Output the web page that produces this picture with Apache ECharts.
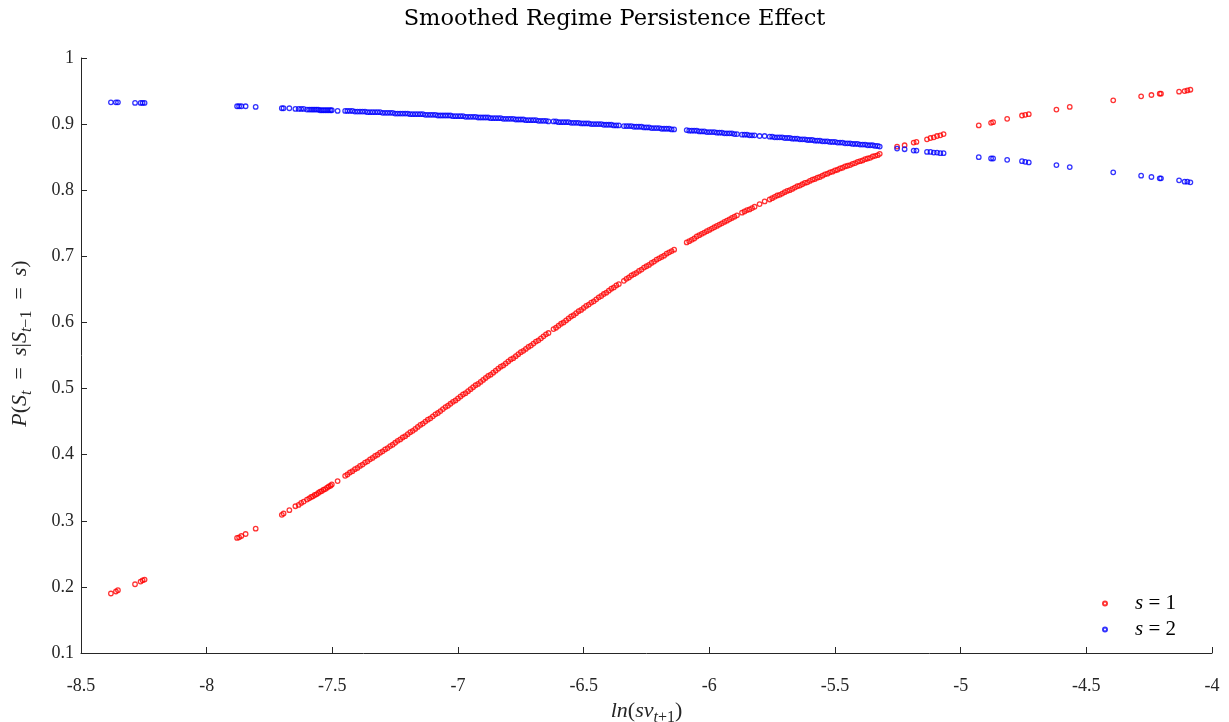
<!DOCTYPE html>
<html>
<head>
<meta charset="utf-8">
<script src="https://cdn.jsdelivr.net/npm/echarts@6/dist/echarts.min.js"></script>
<style>html,body{margin:0;padding:0;background:#fff}#c{width:1229px;height:722px}</style>
</head>
<body>
<div id="c"></div>
<script>
// log sv_{t+1} (shared by both regimes)
const xs = [
 -8.381,-8.361,-8.353,-8.285,-8.263,-8.255,-8.247,
 -7.879,-7.871,-7.862,-7.845,-7.805,
 -7.701,-7.694,-7.671,-7.647,-7.634,-7.624,-7.614,-7.601,-7.592,-7.584,-7.577,-7.570,
 -7.563,-7.556,-7.549,-7.542,-7.535,-7.528,-7.521,-7.514,-7.507,-7.502,-7.479,-7.449,
 -7.44,-7.43,-7.42,-7.41,-7.40,
 -7.39,-7.38,-7.37,-7.36,-7.35,-7.34,-7.33,-7.32,-7.31,-7.30,
 -7.29,-7.28,-7.27,-7.26,-7.25,-7.24,-7.23,-7.22,-7.21,-7.20,
 -7.19,-7.18,-7.17,-7.16,-7.15,-7.14,-7.13,-7.12,-7.11,-7.10,
 -7.09,-7.08,-7.07,-7.06,-7.05,-7.04,-7.03,-7.02,-7.01,-7.00,
 -6.99,-6.98,-6.97,-6.96,-6.95,-6.94,-6.93,-6.92,-6.91,-6.90,
 -6.89,-6.88,-6.87,-6.86,-6.85,-6.84,-6.83,-6.82,-6.81,-6.80,
 -6.79,-6.78,-6.77,-6.76,-6.75,-6.74,-6.73,-6.72,-6.71,-6.70,
 -6.69,-6.68,-6.67,-6.66,-6.65,-6.64,-6.62,-6.61,-6.60,
 -6.59,-6.58,-6.57,-6.56,-6.55,-6.54,-6.53,-6.52,-6.51,-6.50,
 -6.49,-6.48,-6.47,-6.46,-6.45,-6.44,-6.43,-6.42,-6.41,-6.40,
 -6.39,-6.38,-6.37,-6.36,-6.34,-6.33,-6.32,-6.31,-6.30,
 -6.29,-6.28,-6.27,-6.26,-6.25,-6.24,-6.23,-6.22,-6.21,-6.20,
 -6.19,-6.18,-6.17,-6.16,-6.15,-6.14,
 -6.09,-6.08,-6.07,-6.06,-6.05,-6.04,-6.03,-6.02,-6.01,-6.00,
 -5.99,-5.98,-5.97,-5.96,-5.95,-5.94,-5.93,-5.92,-5.91,-5.90,
 -5.89,-5.87,-5.86,-5.85,-5.84,-5.83,-5.82,-5.80,
 -5.78,-5.76,-5.75,-5.74,-5.73,-5.72,-5.71,-5.70,
 -5.69,-5.68,-5.67,-5.66,-5.65,-5.64,-5.63,-5.62,-5.61,-5.60,
 -5.59,-5.58,-5.57,-5.56,-5.55,-5.54,-5.53,-5.52,-5.51,-5.50,
 -5.49,-5.48,-5.47,-5.46,-5.45,-5.44,-5.43,-5.42,-5.41,-5.40,
 -5.39,-5.38,-5.37,-5.36,-5.35,-5.34,-5.33,
 -5.322,-5.253,-5.223,-5.187,-5.176,-5.134,-5.120,-5.107,-5.094,-5.081,-5.068,
 -4.928,-4.879,-4.871,-4.815,-4.756,-4.743,-4.729,-4.619,-4.566,
 -4.393,-4.282,-4.241,-4.208,-4.203,-4.131,-4.109,-4.098,-4.086
];
// P(S_t = 1 | S_{t-1} = 1)
const p11 = [
 0.190,0.193,0.195,0.204,0.208,0.210,0.211,
 0.274,0.275,0.277,0.280,0.288,
 0.309,0.311,0.316,0.322,0.324,0.327,0.329,0.332,0.334,0.336,0.337,0.339,
 0.340,0.342,0.344,0.345,0.347,0.348,0.350,0.352,0.353,0.355,0.360,0.368,
 0.370,0.373,0.375,0.378,0.380,
 0.383,0.385,0.388,0.390,0.393,0.395,0.398,0.400,0.403,0.405,
 0.408,0.410,0.413,0.415,0.418,0.421,0.423,0.426,0.428,0.431,
 0.434,0.436,0.439,0.442,0.445,0.447,0.450,0.453,0.455,0.458,
 0.461,0.463,0.466,0.469,0.472,0.474,0.477,0.480,0.482,0.485,
 0.488,0.491,0.493,0.496,0.499,0.502,0.505,0.507,0.510,0.513,
 0.516,0.519,0.521,0.524,0.527,0.530,0.533,0.535,0.538,0.541,
 0.544,0.546,0.549,0.552,0.555,0.557,0.560,0.563,0.565,0.568,
 0.571,0.573,0.576,0.579,0.582,0.584,0.590,0.592,0.595,
 0.598,0.600,0.603,0.606,0.609,0.611,0.614,0.617,0.619,0.622,
 0.625,0.627,0.630,0.632,0.635,0.638,0.640,0.643,0.645,0.648,
 0.651,0.653,0.656,0.658,0.663,0.666,0.668,0.671,0.673,
 0.675,0.678,0.680,0.683,0.685,0.687,0.690,0.692,0.695,0.697,
 0.699,0.701,0.704,0.706,0.708,0.710,
 0.721,0.723,0.725,0.727,0.730,0.732,0.734,0.736,0.738,0.740,
 0.742,0.744,0.746,0.748,0.750,0.752,0.754,0.756,0.758,0.760,
 0.762,0.766,0.768,0.770,0.771,0.773,0.775,0.779,
 0.783,0.786,0.788,0.790,0.792,0.793,0.795,0.797,
 0.799,0.800,0.802,0.804,0.806,0.807,0.809,0.811,0.812,0.814,
 0.816,0.817,0.819,0.820,0.822,0.824,0.825,0.827,0.828,0.830,
 0.831,0.833,0.834,0.836,0.837,0.838,0.840,0.841,0.843,0.844,
 0.845,0.847,0.848,0.849,0.851,0.852,0.853,
 0.855,0.866,0.868,0.872,0.873,0.877,0.879,0.880,0.882,0.883,0.885,
 0.898,0.902,0.903,0.908,0.913,0.914,0.915,0.922,0.926,
 0.936,0.942,0.944,0.946,0.946,0.949,0.950,0.951,0.952
];
// P(S_t = 2 | S_{t-1} = 2)
const p22 = [
 0.933,0.933,0.933,0.932,0.932,0.932,0.932,
 0.927,0.927,0.927,0.927,0.926,
 0.924,0.924,0.924,0.923,0.923,0.923,0.923,0.922,0.922,0.922,0.922,0.922,
 0.922,0.922,0.921,0.921,0.921,0.921,0.921,0.921,0.921,0.921,0.920,0.920,
 0.920,0.920,0.920,0.919,0.919,
 0.919,0.919,0.919,0.918,0.918,0.918,0.918,0.918,0.918,0.917,
 0.917,0.917,0.917,0.917,0.916,0.916,0.916,0.916,0.916,0.916,
 0.915,0.915,0.915,0.915,0.915,0.915,0.914,0.914,0.914,0.914,
 0.914,0.913,0.913,0.913,0.913,0.913,0.913,0.912,0.912,0.912,
 0.912,0.912,0.911,0.911,0.911,0.911,0.911,0.910,0.910,0.910,
 0.910,0.910,0.909,0.909,0.909,0.909,0.909,0.908,0.908,0.908,
 0.908,0.908,0.907,0.907,0.907,0.907,0.906,0.906,0.906,0.906,
 0.906,0.905,0.905,0.905,0.905,0.904,0.904,0.904,0.903,
 0.903,0.903,0.903,0.903,0.902,0.902,0.902,0.902,0.901,0.901,
 0.901,0.901,0.900,0.900,0.900,0.900,0.900,0.899,0.899,0.899,
 0.899,0.898,0.898,0.898,0.897,0.897,0.897,0.897,0.896,
 0.896,0.896,0.896,0.895,0.895,0.895,0.894,0.894,0.894,0.894,
 0.893,0.893,0.893,0.893,0.892,0.892,
 0.891,0.890,0.890,0.890,0.890,0.889,0.889,0.889,0.888,0.888,
 0.888,0.888,0.887,0.887,0.887,0.886,0.886,0.886,0.886,0.885,
 0.885,0.884,0.884,0.884,0.883,0.883,0.883,0.882,
 0.882,0.881,0.881,0.880,0.880,0.880,0.880,0.879,
 0.879,0.879,0.878,0.878,0.878,0.877,0.877,0.877,0.876,0.876,
 0.876,0.875,0.875,0.875,0.874,0.874,0.874,0.873,0.873,0.873,
 0.872,0.872,0.872,0.871,0.871,0.871,0.870,0.870,0.870,0.869,
 0.869,0.869,0.868,0.868,0.868,0.867,0.867,
 0.866,0.863,0.862,0.860,0.860,0.858,0.858,0.857,0.857,0.856,0.856,
 0.850,0.848,0.848,0.846,0.844,0.843,0.842,0.838,0.835,
 0.827,0.822,0.820,0.818,0.818,0.815,0.813,0.813,0.812
];
const xTicks = { min: -8.5, max: -4, interval: 0.5 };
const yTicks = { min: 0.1, max: 1, interval: 0.1 };

const SERIF = '"Liberation Serif", "DejaVu Serif", serif';
const AX = '#262626';
const SP = '\u2002';
const richMath = {
  i: { fontFamily: SERIF, fontStyle: 'italic', fontSize: 22, color: AX, lineHeight: 26, verticalAlign: 'bottom' },
  n: { fontFamily: SERIF, fontSize: 22, color: AX, lineHeight: 26, verticalAlign: 'bottom' },
  sub: { fontFamily: SERIF, fontStyle: 'italic', fontSize: 16, color: AX, lineHeight: 16, verticalAlign: 'bottom', padding: [0, 0, -4, 0] },
  subn: { fontFamily: SERIF, fontSize: 16, color: AX, lineHeight: 16, verticalAlign: 'bottom', padding: [0, 0, -4, 0] }
};

const chart = echarts.init(document.getElementById('c'), null, { renderer: 'canvas' });
function ringStyle(c) { return { color: 'rgba(255,255,255,0)', borderColor: c, borderWidth: 1.3 }; }
chart.setOption({
  animation: false,
  backgroundColor: '#fff',
  title: {
    text: 'Smoothed Regime Persistence Effect',
    left: 'center', top: 3,
    textStyle: { fontFamily: '"DejaVu Serif", serif', fontWeight: 'normal', fontSize: 22.5, color: '#000' }
  },
  grid: { left: 81, right: 17, top: 58, bottom: 69, containLabel: false, outerBoundsMode: 'none' },
  legend: {
    orient: 'vertical', left: 1097, top: 588,
    icon: 'circle', itemWidth: 50, itemHeight: 4, itemGap: 5,
    formatter: function (name) { return name === 's1' ? '{i|s}{n| = 1}' : '{i|s}{n| = 2}'; },
    textStyle: { rich: { i: { fontFamily: SERIF, fontStyle: 'italic', fontSize: 21, color: '#000' }, n: { fontFamily: SERIF, fontSize: 21, color: '#000' } } },
    data: ['s1', 's2']
  },
  xAxis: {
    type: 'value', min: xTicks.min, max: xTicks.max, interval: xTicks.interval,
    name: '{i|ln}{n|(}{i|sv}{sub|t}{subn|+1}{n|)}',
    nameLocation: 'middle', nameGap: 40,
    nameTextStyle: { rich: richMath },
    axisLine: { lineStyle: { color: AX, width: 1 } },
    axisTick: { inside: true, length: 6, lineStyle: { color: AX } },
    axisLabel: { color: AX, fontFamily: SERIF, fontSize: 18, margin: 24, formatter: v => String(+v.toFixed(1)) },
    splitLine: { show: false }
  },
  yAxis: {
    type: 'value', min: yTicks.min, max: yTicks.max, interval: yTicks.interval,
    name: '{i|P}{n|(}{i|S}{sub|t}{n|' + SP + '=' + SP + '}{i|s}{n||}{i|S}{sub|t}{subn|−1}{n|' + SP + '=' + SP + '}{i|s}{n|)}',
    nameLocation: 'middle', nameGap: 50, nameRotate: 90,
    nameTextStyle: { rich: richMath, padding: [0, 0, 0, 24] },
    axisLine: { show: true, lineStyle: { color: AX, width: 1 } },
    axisTick: { show: true, inside: true, length: 6, lineStyle: { color: AX } },
    axisLabel: { color: AX, fontFamily: SERIF, fontSize: 18, margin: 7, formatter: v => String(+v.toFixed(1)) },
    splitLine: { show: false }
  },
  series: [
    { name: 's1', type: 'scatter', symbol: 'circle', symbolSize: 4.5, itemStyle: ringStyle('#ff0000'),
      data: xs.map((x, i) => [x, p11[i]]) },
    { name: 's2', type: 'scatter', symbol: 'circle', symbolSize: 4.5, itemStyle: ringStyle('#0000ff'),
      data: xs.map((x, i) => [x, p22[i]]) }
  ]
});
</script>
</body>
</html>
